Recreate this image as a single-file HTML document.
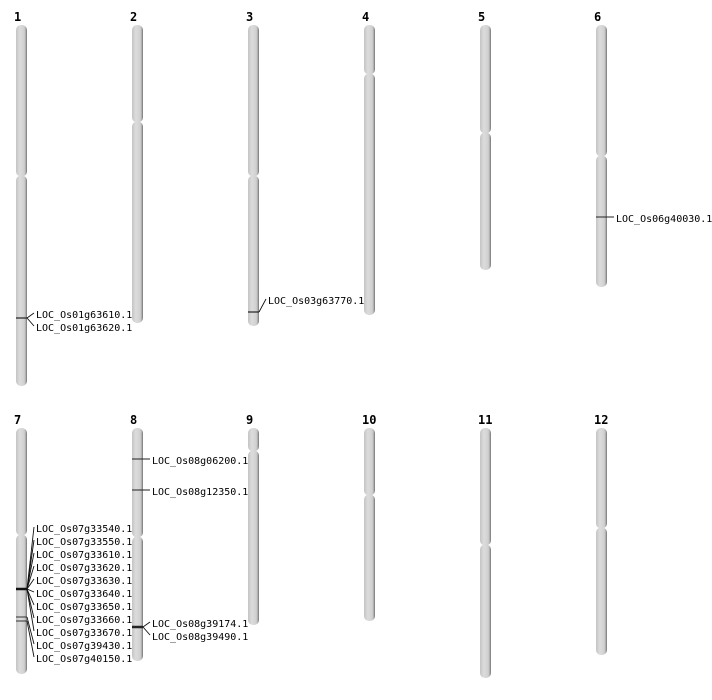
<!DOCTYPE html>
<html><head><meta charset="utf-8"><style>
html,body{margin:0;padding:0;background:#fff;width:712px;height:700px;overflow:hidden}
text{font-family:"DejaVu Sans Mono","Liberation Mono",monospace}
</style></head><body>
<svg id="s" width="712" height="700" xmlns="http://www.w3.org/2000/svg">
<defs>
<linearGradient id="g" x1="0" x2="1" y1="0" y2="0">
<stop offset="0" stop-color="#c4c4c4"/><stop offset="0.35" stop-color="#dcdcdc"/><stop offset="0.75" stop-color="#d0d0d0"/><stop offset="0.9" stop-color="#a8a8a8"/><stop offset="1" stop-color="#6e6e6e"/>
</linearGradient>
</defs>
</svg>
<script>
var s=document.getElementById('s'),h='';
var ch=[[1,16,25,176,386],[2,132,25,122,323],[3,248,25,176,326],[4,364,25,74,315],[5,480,25,133,270],[6,596,25,156,287],
[7,16,428,535,674],[8,132,428,537,661],[9,248,428,451,625],[10,364,428,495,621],[11,480,428,545,678],[12,596,428,528,655]];
ch.forEach(function(c){var x=c[1],t=c[2],m=c[3],b=c[4];
h+='<text x="'+(x-2)+'" y="'+(t-4)+'" font-size="12" font-weight="bold">'+c[0]+'</text>';
h+='<rect x="'+x+'" y="'+t+'" width="11" height="'+(m-t+0.5)+'" rx="5" fill="url(#g)"/>';
h+='<rect x="'+x+'" y="'+(m-0.5)+'" width="11" height="'+(b-m+0.5)+'" rx="5" fill="url(#g)"/>';});
function mk(x,y,labels,w){w=w||1.2;h+='<line x1="'+x+'" y1="'+y+'" x2="'+(x+11)+'" y2="'+y+'" stroke="#222" stroke-width="'+w+'"/>';
labels.forEach(function(l){h+='<polyline points="'+(x+11)+','+y+' '+(x+18)+','+l[1]+'" fill="none" stroke="#111" stroke-width="0.9"/>';
h+='<text x="'+(x+20)+'" y="'+(l[1]+5)+'" font-size="10">'+l[0]+'</text>';});}
function mk2(x,y,ly,lab){h+='<line x1="'+x+'" y1="'+y+'" x2="'+(x+18)+'" y2="'+y+'" stroke="#222" stroke-width="1"/>';
h+='<text x="'+(x+20)+'" y="'+(ly+5)+'" font-size="10">'+lab+'</text>';}
mk(16,318,[['LOC_Os01g63610.1',313],['LOC_Os01g63620.1',326]]);
mk(248,312,[['LOC_Os03g63770.1',299]]);
mk2(596,217,217,'LOC_Os06g40030.1');
mk2(132,459,459,'LOC_Os08g06200.1');
mk2(132,490,490,'LOC_Os08g12350.1');
mk(132,627,[['LOC_Os08g39174.1',622],['LOC_Os08g39490.1',635]],2.5);
var l7=['33540','33550','33610','33620','33630','33640','33650','33660','33670','39430','40150'];
h+='<line x1="16" y1="589" x2="27" y2="589" stroke="#111" stroke-width="2.5"/>';
h+='<line x1="16" y1="617" x2="27" y2="617" stroke="#333" stroke-width="1"/>';
h+='<line x1="16" y1="621" x2="27" y2="621" stroke="#333" stroke-width="1"/>';
l7.forEach(function(n,i){var ly=527+i*13,sy=i<9?589:(i==9?617:621);
h+='<polyline points="27,'+sy+' 34,'+ly+'" fill="none" stroke="#111" stroke-width="0.9"/>';
h+='<text x="36" y="'+(ly+5)+'" font-size="10">LOC_Os07g'+n+'.1</text>';});
s.insertAdjacentHTML('beforeend',h);
</script>
</body></html>
